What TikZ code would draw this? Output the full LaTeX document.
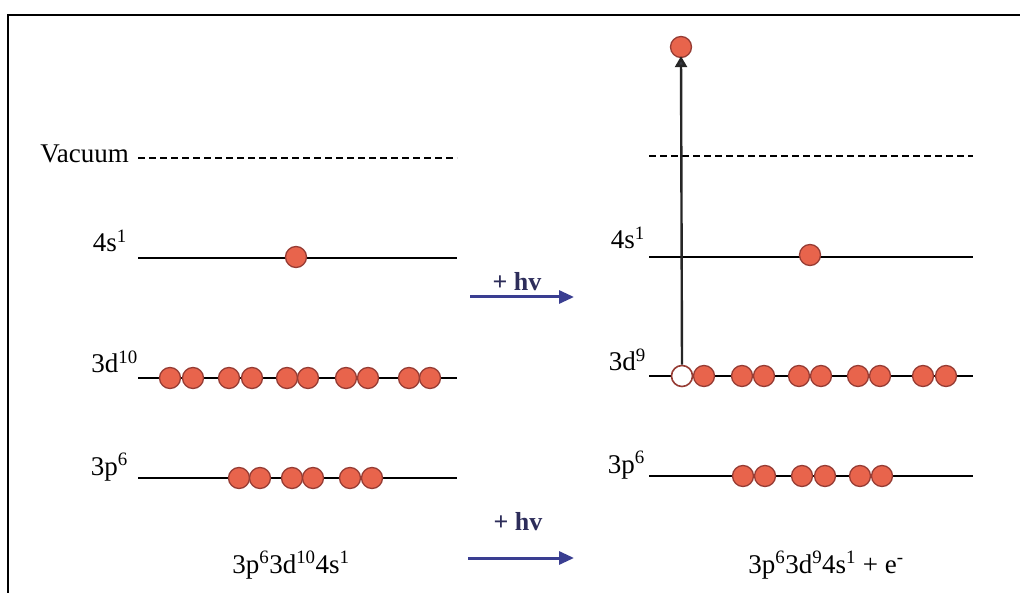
\documentclass[tikz,border=0pt]{standalone}
\usepackage{fontspec}
\setmainfont{Liberation Serif}
\usetikzlibrary{arrows.meta}
\definecolor{eorange}{RGB}{232,100,76}
\definecolor{eedge}{RGB}{150,60,52}
\definecolor{hvblue}{RGB}{58,62,145}
\definecolor{hvtext}{RGB}{45,45,90}
\definecolor{tipgray}{RGB}{55,58,66}
\begin{document}
\begin{tikzpicture}[x=1pt,y=-1pt,
  electron/.style={circle,draw=eedge,fill=eorange,line width=1.3pt,minimum size=21pt,inner sep=0pt},
  hole/.style={circle,draw=eedge,fill=white,line width=1.6pt,minimum size=21pt,inner sep=0pt},
  level/.style={line width=1.7pt},
  vac/.style={line width=1.7pt,dash pattern=on 7pt off 4pt},
  lbl/.style={font=\fontsize{27}{30}\selectfont,inner sep=0pt},
  hvarrow/.style={-{Triangle[length=15pt,width=13pt]},draw=hvblue,line width=3pt},
  hvl/.style={font=\fontsize{26}{30}\selectfont\bfseries,text=hvtext,inner sep=0pt},
  exc/.style={-{Triangle[length=11pt,width=12pt,fill=tipgray]},line width=2.4pt,draw=black!85}
]
\useasboundingbox (0,0) rectangle (1020,593);
\draw[line width=1.6pt] (1020,15) -- (8,15) -- (8,593);

% ---------- left side ----------
\coordinate (vL1) at (138,158); \coordinate (vL2) at (457,158);
\coordinate (sL1) at (138,258); \coordinate (sL2) at (457,258);
\coordinate (dL1) at (138,378); \coordinate (dL2) at (457,378);
\coordinate (pL1) at (138,478); \coordinate (pL2) at (457,478);
\draw[vac] (vL1) -- (vL2);
\draw[level] (sL1) -- (sL2);
\draw[level] (dL1) -- (dL2);
\draw[level] (pL1) -- (pL2);

\node[lbl,anchor=base east] (vacL) at (129,163) {Vacuum};
\node[lbl,anchor=base east] (sLab) at (127,252) {4s\textsuperscript{1}};
\node[lbl,anchor=base east] (dLab) at (138,373) {3d\textsuperscript{10}};
\node[lbl,anchor=base east] (pLab) at (128,475) {3p\textsuperscript{6}};

\node[electron] (es) at (296,257) {};
\foreach \x [count=\i] in {170,193,229,252,287,308,346,368,409,430}
  \node[electron] (ed\i) at (\x,378) {};
\foreach \x [count=\i] in {239,260,292,313,350,372}
  \node[electron] (ep\i) at (\x,478) {};

\node[lbl,anchor=base] (cfgL) at (291,573) {3p\textsuperscript{6}3d\textsuperscript{10}4s\textsuperscript{1}};

% ---------- arrows ----------
\coordinate (a1s) at (470,297); \coordinate (a1e) at (574,297);
\draw[hvarrow] (a1s) -- (a1e);
\node[hvl,anchor=base] (hv1) at (517,291) {+ hv};
\coordinate (a2s) at (468,558); \coordinate (a2e) at (574,558);
\draw[hvarrow] (a2s) -- (a2e);
\node[hvl,anchor=base] (hv2) at (518,530) {+ hv};

% ---------- right side ----------
\coordinate (vR1) at (649,156); \coordinate (vR2) at (973,156);
\coordinate (sR1) at (649,257); \coordinate (sR2) at (973,257);
\coordinate (dR1) at (649,376); \coordinate (dR2) at (973,376);
\coordinate (pR1) at (649,476); \coordinate (pR2) at (973,476);
\draw[vac] (vR1) -- (vR2);
\draw[level] (sR1) -- (sR2);
\draw[level] (dR1) -- (dR2);
\draw[level] (pR1) -- (pR2);

\node[lbl,anchor=base east] (sLabR) at (645,249) {4s\textsuperscript{1}};
\node[lbl,anchor=base east] (dLabR) at (646,371) {3d\textsuperscript{9}};
\node[lbl,anchor=base east] (pLabR) at (645,473) {3p\textsuperscript{6}};

\node[electron] (esR) at (810,255) {};
\node[hole] (h) at (682,376) {};
\foreach \x [count=\i] in {704,742,764,799,821,858,880,923,946}
  \node[electron] (edR\i) at (\x,376) {};
\foreach \x [count=\i] in {743,765,802,825,860,882}
  \node[electron] (epR\i) at (\x,476) {};

\node[electron] (eout) at (681,47) {};
\draw[exc] (h.north) -- ([yshift=2pt]eout.south);

\node[lbl,anchor=base] (cfgR) at (826,573) {3p\textsuperscript{6}3d\textsuperscript{9}4s\textsuperscript{1} + e\textsuperscript{-}};
\end{tikzpicture}
\end{document}
